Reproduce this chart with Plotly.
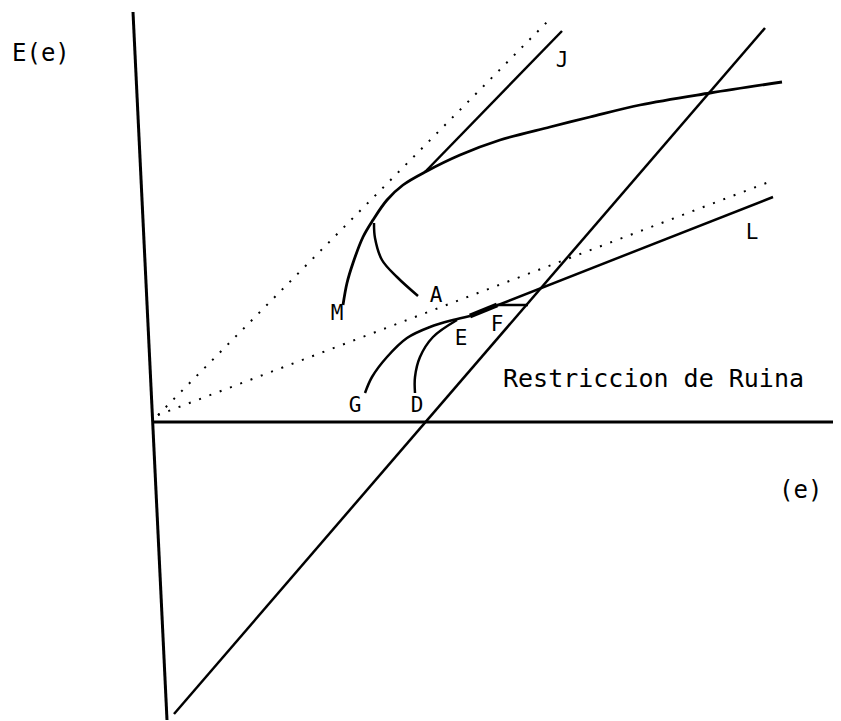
import plotly.graph_objects as go

# Diagram coordinates: origin at the corner of the axes, e to the right, E(e) upward
vaxis_x = [-22, 12]
vaxis_y = [410, -298]
haxis_x = [-2, 686]
haxis_y = [0, 0]

dot_upper_x = [3, 392]
dot_upper_y = [7, 400]
dot_lower_x = [3, 614]
dot_lower_y = [7, 240]

ruin_x = [19, 610]
ruin_y = [-292, 394]

j_x = [270, 407]
j_y = [250, 391]

frontier_x = [188, 192, 198, 208, 218, 232, 248, 272, 305, 345, 395, 435, 485, 555, 627]
frontier_y = [117, 139, 159, 185, 202, 222, 237, 251, 267, 282, 295, 305, 317, 329, 340]

a_branch_x = [219, 220, 227, 242, 263]
a_branch_y = [199, 184, 162, 145, 126]

g_curve_x = [210, 217, 232, 252, 275, 298, 315]
g_curve_y = [29, 45, 65, 84, 95, 102, 106]

d_curve_x = [260, 260, 265, 278, 302]
d_curve_y = [29, 45, 65, 85, 102]

l_x = [315, 618]
l_y = [106, 225]

thick_x = [315, 342]
thick_y = [106, 117]

f_x = [342, 373]
f_y = [117, 117]

label_text = ["M", "A", "E", "F", "G", "D", "J", "L"]
label_x = [182, 281, 306, 342, 200, 262, 407, 597]
label_y = [107, 125, 82, 96, 15, 15, 360, 188]

fig = go.Figure()

def add_line(x, y, width=2.5, dash="solid", shape="linear"):
    fig.add_trace(go.Scatter(x=x, y=y, mode="lines",
                             line=dict(color="black", width=width, dash=dash, shape=shape),
                             hoverinfo="skip", showlegend=False))

add_line(vaxis_x, vaxis_y, width=3)
add_line(haxis_x, haxis_y, width=3)
add_line(dot_upper_x, dot_upper_y, width=2, dash="2px,9px")
add_line(dot_lower_x, dot_lower_y, width=2, dash="2px,9px")
add_line(ruin_x, ruin_y, width=2.5)
add_line(j_x, j_y, width=2.5)
add_line(frontier_x, frontier_y, width=2.8, shape="spline")
add_line(a_branch_x, a_branch_y, width=2.5, shape="spline")
add_line(g_curve_x, g_curve_y, width=2.5, shape="spline")
add_line(d_curve_x, d_curve_y, width=2.5, shape="spline")
add_line(l_x, l_y, width=2.5)
add_line(thick_x, thick_y, width=5)
add_line(f_x, f_y, width=2.5)

font_main = dict(family="DejaVu Sans Mono", color="black")

fig.add_trace(go.Scatter(x=label_x, y=label_y, mode="text", text=label_text,
                         textfont=dict(size=21, **font_main),
                         hoverinfo="skip", showlegend=False))

fig.add_annotation(x=-114, y=369, text="E(e)", showarrow=False,
                   font=dict(size=24, **font_main))
fig.add_annotation(x=645, y=-68, text="(e)", showarrow=False,
                   font=dict(size=24, **font_main))
fig.add_annotation(x=498, y=44, text="Restriccion de Ruina", showarrow=False,
                   font=dict(size=25, **font_main))

# the page body has an 8px margin: size the figure so it ends at the window edge
fig.update_layout(
    width=833, height=713, autosize=False,
    margin=dict(l=0, r=0, t=0, b=0),
    paper_bgcolor="white", plot_bgcolor="white",
    xaxis=dict(range=[-147, 686], visible=False, fixedrange=True),
    yaxis=dict(range=[-299, 414], visible=False, fixedrange=True),
)

fig.write_html("out.html")
